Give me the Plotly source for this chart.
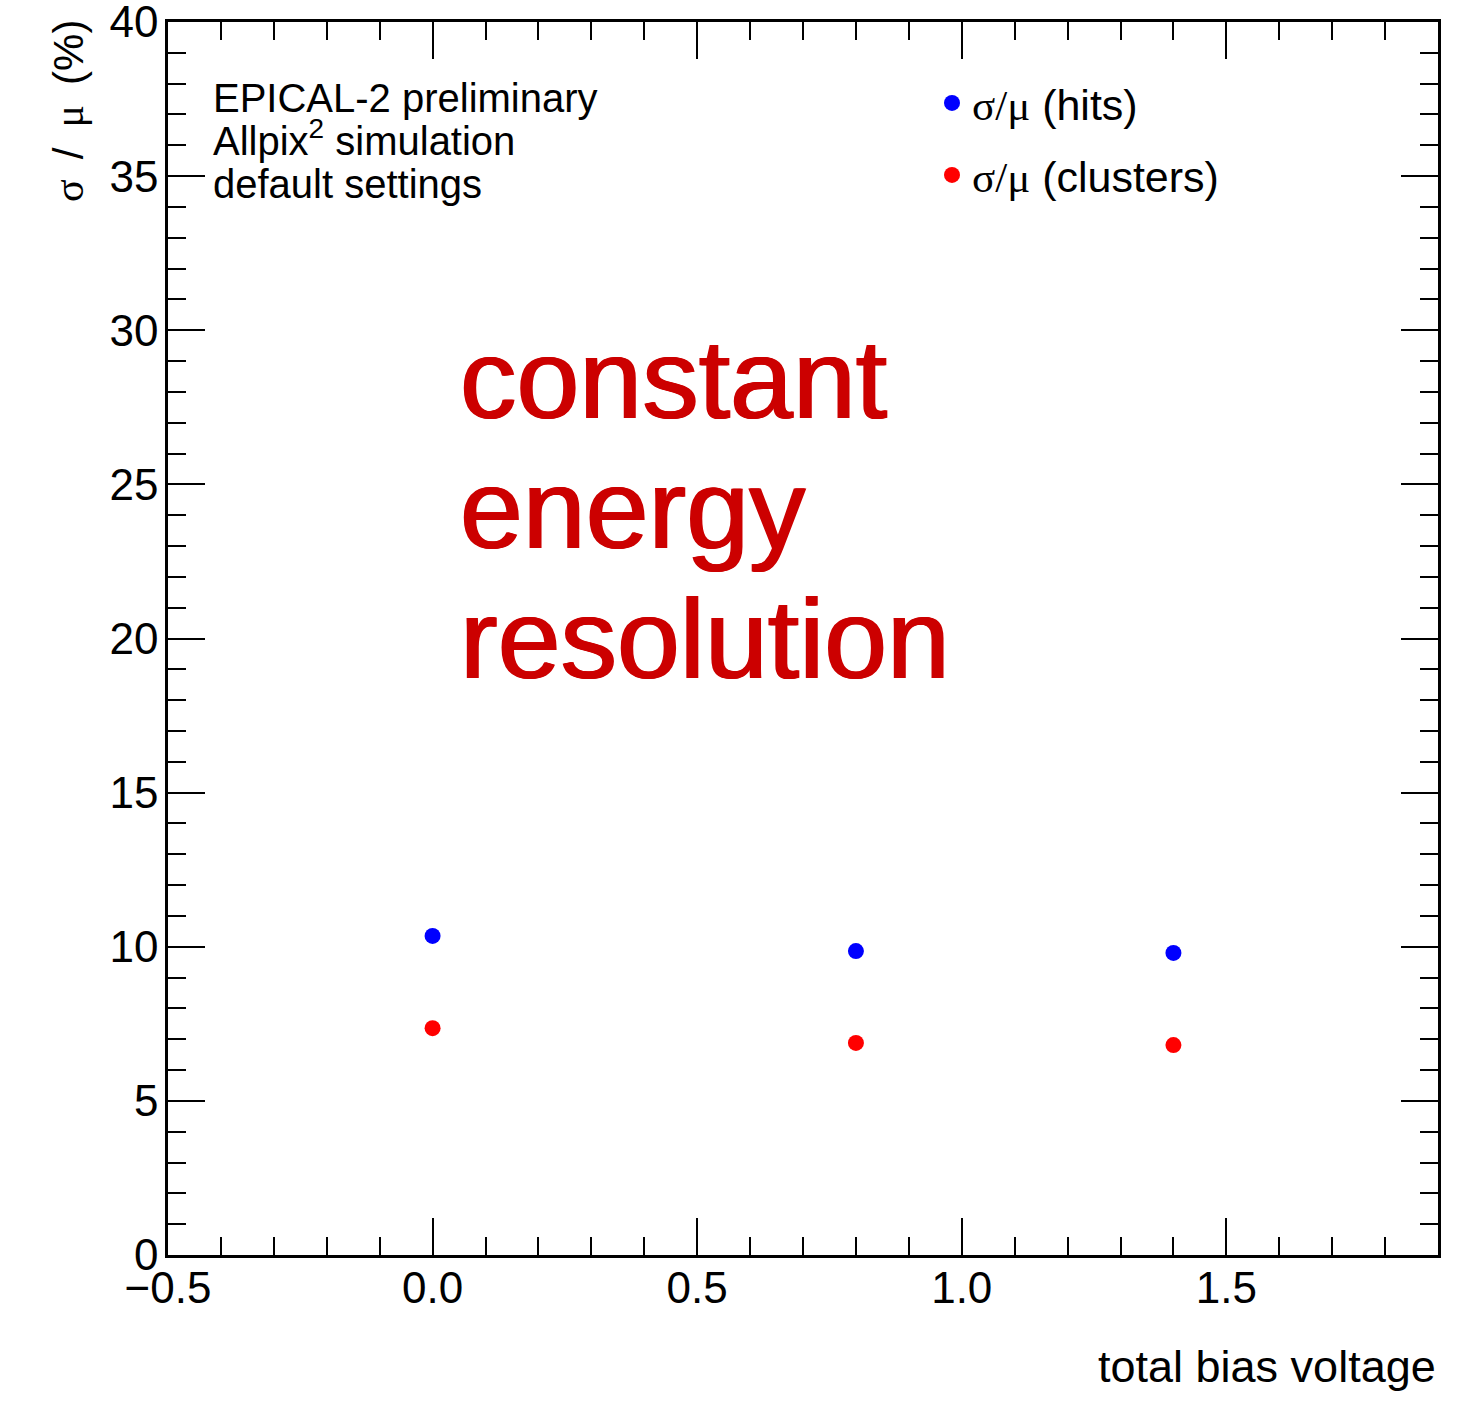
import plotly.graph_objects as go

# ---- data ----
bias_voltage = [0.0, 0.8, 1.4]
res_hits = [10.35, 9.86, 9.80]
res_clusters = [7.36, 6.88, 6.81]

x_range = [-0.5, 1.9]
y_range = [0, 40]

SERIF = "Liberation Serif"
SANS = "Liberation Sans, Arial, Helvetica, sans-serif"
sig_mu = f'<span style="font-family:{SERIF}">σ/μ</span>'

fig = go.Figure()
fig.add_trace(go.Scatter(
    x=bias_voltage, y=res_hits, mode="markers",
    marker=dict(color="#0000FF", size=16, symbol="circle"),
    name=f"{sig_mu} (hits)", legend="legend",
))
fig.add_trace(go.Scatter(
    x=bias_voltage, y=res_clusters, mode="markers",
    marker=dict(color="#FF0000", size=16, symbol="circle"),
    name=f"{sig_mu} (clusters)", legend="legend2",
))

axis_common = dict(
    showline=True, linecolor="black", linewidth=2.5, mirror="allticks",
    ticks="inside", ticklen=37, tickwidth=2, tickcolor="black",
    showgrid=False, zeroline=False, ticklabeloverflow="allow", automargin=False,
    tickfont=dict(family=SANS, size=44, color="black"),
)

fig.update_xaxes(
    range=x_range, dtick=0.5, tick0=0, tickformat=".1f",
    minor=dict(dtick=0.1, ticks="inside", ticklen=18, tickwidth=2, tickcolor="black", showgrid=False),
    ticklabelstandoff=-8,
    **axis_common,
)
fig.update_yaxes(
    range=y_range, dtick=5, tick0=0,
    minor=dict(dtick=1, ticks="inside", ticklen=18, tickwidth=2, tickcolor="black", showgrid=False),
    ticklabelstandoff=-2,
    **axis_common,
)

L, R, T, B = 168, 22, 22, 155
W, H = 1460, 1410
pw, ph = W - L - R, H - T - B

def px(xp):
    return (xp - L) / pw

def py(yp):
    return (H - B - yp) / ph

legend_common = dict(
    font=dict(family=SANS, size=43, color="black"),
    bgcolor="rgba(0,0,0,0)", borderwidth=0,
    xanchor="left", yanchor="middle", itemsizing="trace",
)
fig.update_layout(
    width=W, height=H,
    margin=dict(l=L, r=R, t=T, b=B, autoexpand=False),
    paper_bgcolor="white", plot_bgcolor="white",
    font=dict(family=SANS, color="black"),
    showlegend=True,
    legend=dict(x=px(932), y=py(103), **legend_common),
    legend2=dict(x=px(932), y=py(175), **legend_common),
)

annotations = []
# y-axis title (rotated, aligned to top)
annotations.append(dict(
    text=(f'<span style="font-family:{SERIF}">σ</span>\u2009 /\u2009 '
          f'<span style="font-family:{SERIF}">μ</span>\u2009 (%)'),
    xref="paper", yref="paper", x=px(68), y=py(18), xanchor="center", yanchor="top",
    textangle=-90, showarrow=False, font=dict(family=SANS, size=42, color="black"),
))
# x-axis title (right aligned)
annotations.append(dict(
    text="total bias voltage", xref="paper", yref="paper", x=1.0, y=py(1366),
    xanchor="right", yanchor="middle", showarrow=False,
    font=dict(family=SANS, size=45, color="black"),
))
# info text
info_lines = ["EPICAL-2 preliminary", "Allpix<sup>2</sup> simulation", "default settings"]
info_y = [98, 138, 184]
for t, yy in zip(info_lines, info_y):
    annotations.append(dict(
        text=t, xref="paper", yref="paper", x=px(211), y=py(yy),
        xanchor="left", yanchor="middle", showarrow=False,
        font=dict(family=SANS, size=40, color="black"),
    ))
# big red statement
big_lines = ["constant", "energy", "resolution"]
big_y = [379, 509, 639]
for t, yy in zip(big_lines, big_y):
    annotations.append(dict(
        text=t, xref="paper", yref="paper", x=px(458), y=py(yy),
        xanchor="left", yanchor="middle", showarrow=False,
        font=dict(family=SANS, size=113, color="#CC0000",
                  shadow="1px 0px 0px #CC0000, -1px 0px 0px #CC0000"),
    ))
fig.update_layout(annotations=annotations)

fig.write_html("out.html")
